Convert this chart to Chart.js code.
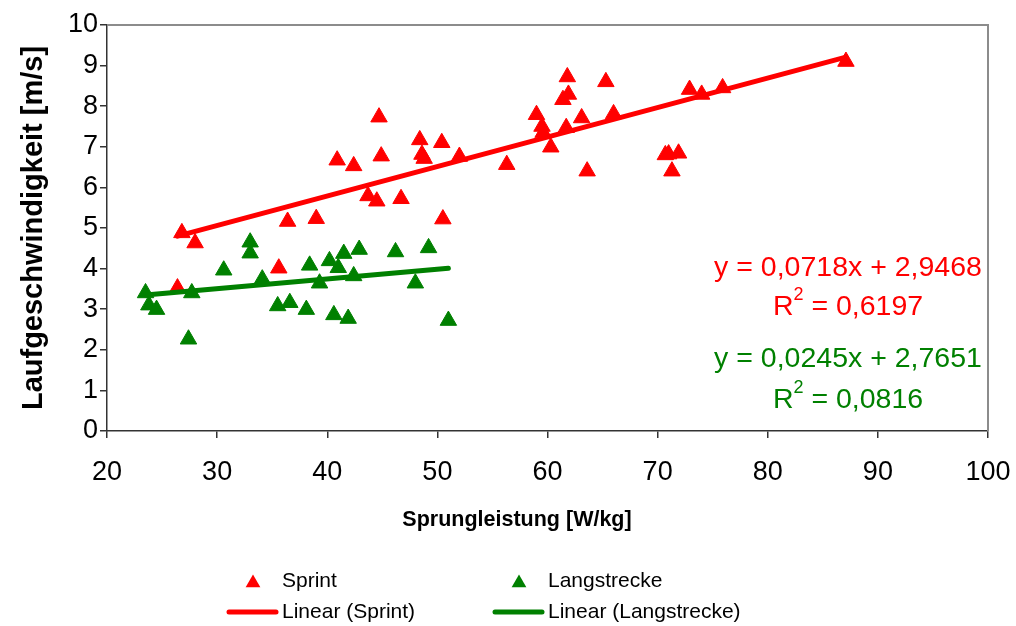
<!DOCTYPE html>
<html><head><meta charset="utf-8">
<script src="https://cdn.jsdelivr.net/npm/chart.js@4"></script>
<style>html,body{margin:0;padding:0;background:#fff}#wrap{width:1016px;height:626px;position:relative}</style>
</head><body><div id="wrap"><canvas id="c" width="1016" height="626"></canvas></div>
<script>
// ---- data ----
const sprintX = [26.8, 28.0, 26.4, 35.6, 36.4, 39.0, 50.5, 43.7, 44.5, 46.7, 40.9, 42.4, 44.9, 48.6, 48.8, 52.0, 44.7, 48.4, 50.4, 56.3, 59.0, 59.5, 59.6, 60.3, 61.7, 61.4, 61.9, 61.8, 63.1, 63.6, 65.3, 66.0, 70.7, 71.0, 71.9, 71.3, 72.9, 74.0, 75.9, 87.1];
const sprintY = [4.88, 4.63, 3.52, 4.01, 5.16, 5.23, 5.22, 5.79, 5.66, 5.72, 6.67, 6.53, 6.77, 6.81, 6.71, 6.76, 7.73, 7.17, 7.10, 6.56, 7.79, 7.50, 7.35, 6.99, 7.47, 8.16, 8.29, 8.72, 7.71, 6.40, 8.60, 7.81, 6.80, 6.82, 6.84, 6.40, 8.41, 8.29, 8.45, 9.10];
const langX = [23.5, 23.8, 24.5, 27.7, 27.4, 30.6, 33.0, 33.0, 34.1, 35.5, 36.6, 38.4, 40.2, 41.5, 42.9, 41.0, 46.2, 49.2, 39.3, 42.4, 48.0, 38.1, 40.6, 41.9, 51.0];
const langY = [3.40, 3.10, 2.99, 3.40, 2.26, 3.96, 4.65, 4.38, 3.74, 3.08, 3.16, 4.08, 4.19, 4.37, 4.47, 4.02, 4.41, 4.51, 3.64, 3.82, 3.64, 2.99, 2.86, 2.77, 2.72];
const sprintTrendX = [26.4, 87.1];
const sprintTrendY = [4.80, 9.21];
const langTrendX = [23.5, 51.0];
const langTrendY = [3.35, 4.01];
const xTickValues = [20, 30, 40, 50, 60, 70, 80, 90, 100];
const yTickValues = [0, 1, 2, 3, 4, 5, 6, 7, 8, 9, 10];
const seriesNames = ['Sprint', 'Langstrecke', 'Linear (Sprint)', 'Linear (Langstrecke)'];
const xTitle = 'Sprungleistung [W/kg]';
const yTitle = 'Laufgeschwindigkeit [m/s]';
const sprintEq = ['y = 0,0718x + 2,9468', '0,6197'];
const langEq = ['y = 0,0245x + 2,7651', '0,0816'];

// ---- styles ----
const RED = '#ff0000';
const GREEN = '#008000';
const FONT = '"Liberation Sans", Arial, sans-serif';

const toPts = (xs, ys) => xs.map((x, i) => ({x: x, y: ys[i]}));

const decorPlugin = {
  id: 'decor',
  beforeDatasetsDraw(chart) {
    const {ctx, chartArea: a} = chart;
    ctx.save();
    ctx.strokeStyle = '#8c8c8c';
    ctx.lineWidth = 2;
    ctx.beginPath();
    ctx.moveTo(a.left, a.top);
    ctx.lineTo(a.right, a.top);
    ctx.lineTo(a.right, a.bottom);
    ctx.stroke();
    ctx.restore();
  },
  afterDraw(chart) {
    const ctx = chart.ctx;
    ctx.save();
    // x axis title
    ctx.fillStyle = '#000';
    ctx.font = 'bold 21.5px ' + FONT;
    ctx.textAlign = 'center';
    ctx.textBaseline = 'middle';
    ctx.fillText(xTitle, 517, 520);

    // equations
    const eqFont = '28.5px ' + FONT;
    const supFont = '18px ' + FONT;
    const cx = 848;
    function drawEq(lines, color, y1, y2) {
      ctx.fillStyle = color;
      ctx.textBaseline = 'middle';
      ctx.textAlign = 'left';
      ctx.font = eqFont;
      const w1 = ctx.measureText(lines[0]).width;
      ctx.fillText(lines[0], cx - w1 / 2, y1);
      const rest = ' = ' + lines[1];
      const wR = ctx.measureText('R').width;
      const wRest = ctx.measureText(rest).width;
      ctx.font = supFont;
      const w2 = ctx.measureText('2').width;
      const total = wR + w2 + wRest;
      let x = cx - total / 2;
      ctx.font = eqFont;
      ctx.fillText('R', x, y2);
      x += wR;
      ctx.font = supFont;
      ctx.fillText('2', x, y2 - 12);
      x += w2;
      ctx.font = eqFont;
      ctx.fillText(rest, x, y2);
    }
    drawEq(sprintEq, RED, 268, 307);
    drawEq(langEq, GREEN, 359, 400);

    // legend
    ctx.font = '21px ' + FONT;
    ctx.textBaseline = 'middle';
    ctx.textAlign = 'left';
    function tri(x, y, r, color) {
      ctx.fillStyle = color;
      ctx.beginPath();
      ctx.moveTo(x, y - r);
      ctx.lineTo(x + r * 0.866, y + r / 2);
      ctx.lineTo(x - r * 0.866, y + r / 2);
      ctx.closePath();
      ctx.fill();
    }
    function line(x1, x2, y, color) {
      ctx.strokeStyle = color;
      ctx.lineWidth = 5;
      ctx.lineCap = 'round';
      ctx.beginPath();
      ctx.moveTo(x1, y);
      ctx.lineTo(x2, y);
      ctx.stroke();
    }
    const r1 = 581, r2 = 612;
    tri(253, r1 + 2, 8.5, RED);
    ctx.fillStyle = '#000';
    ctx.fillText(seriesNames[0], 282, r1);
    tri(519, r1 + 2, 8.5, GREEN);
    ctx.fillStyle = '#000';
    ctx.fillText(seriesNames[1], 548, r1);
    line(229, 276, r2, RED);
    ctx.fillStyle = '#000';
    ctx.fillText(seriesNames[2], 282, r2);
    line(495, 542, r2, GREEN);
    ctx.fillStyle = '#000';
    ctx.fillText(seriesNames[3], 548, r2);
    ctx.restore();
  }
};

new Chart(document.getElementById('c'), {
  type: 'scatter',
  data: {
    datasets: [
      {label: seriesNames[2], data: toPts(sprintTrendX, sprintTrendY), showLine: true, borderColor: RED, borderWidth: 5, borderCapStyle: 'round', pointRadius: 0, order: 0},
      {label: seriesNames[3], data: toPts(langTrendX, langTrendY), showLine: true, borderColor: GREEN, borderWidth: 5, borderCapStyle: 'round', pointRadius: 0, order: 0},
      {label: seriesNames[0], data: toPts(sprintX, sprintY), pointStyle: 'triangle', pointRadius: 9.5, backgroundColor: RED, borderColor: RED, borderWidth: 1, order: 1},
      {label: seriesNames[1], data: toPts(langX, langY), pointStyle: 'triangle', pointRadius: 9.5, backgroundColor: GREEN, borderColor: GREEN, borderWidth: 1, order: 2}
    ]
  },
  options: {
    responsive: false,
    animation: false,
    devicePixelRatio: 1,
    layout: {padding: {top: 25, right: 28, left: 0, bottom: 0}},
    plugins: {legend: {display: false}, tooltip: {enabled: false}},
    scales: {
      x: {
        type: 'linear', min: 20, max: 100,
        afterBuildTicks: s => { s.ticks = xTickValues.map(v => ({value: v})); },
        afterFit: s => { s.height = 195; s.paddingLeft = 0; s.paddingRight = 0; },
        grid: {drawOnChartArea: false, drawTicks: true, tickLength: 7, color: '#333', lineWidth: 1.5},
        border: {display: true, color: '#333', width: 1.5},
        ticks: {color: '#000', font: {family: FONT, size: 27}, padding: 18, maxRotation: 0},
        title: {display: false}
      },
      y: {
        type: 'linear', min: 0, max: 10,
        afterBuildTicks: s => { s.ticks = yTickValues.map(v => ({value: v})); },
        afterFit: s => { s.width = 107; s.paddingTop = 0; s.paddingBottom = 0; },
        grid: {drawOnChartArea: false, drawTicks: true, tickLength: 7, color: '#333', lineWidth: 1.5},
        border: {display: true, color: '#333', width: 1.5},
        ticks: {color: '#000', font: {family: FONT, size: 27}, padding: 2},
        title: {display: true, text: yTitle, color: '#000', font: {family: FONT, size: 29, weight: 'bold'}, padding: {top: 17, bottom: 0}}
      }
    }
  },
  plugins: [decorPlugin]
});
</script></body></html>
